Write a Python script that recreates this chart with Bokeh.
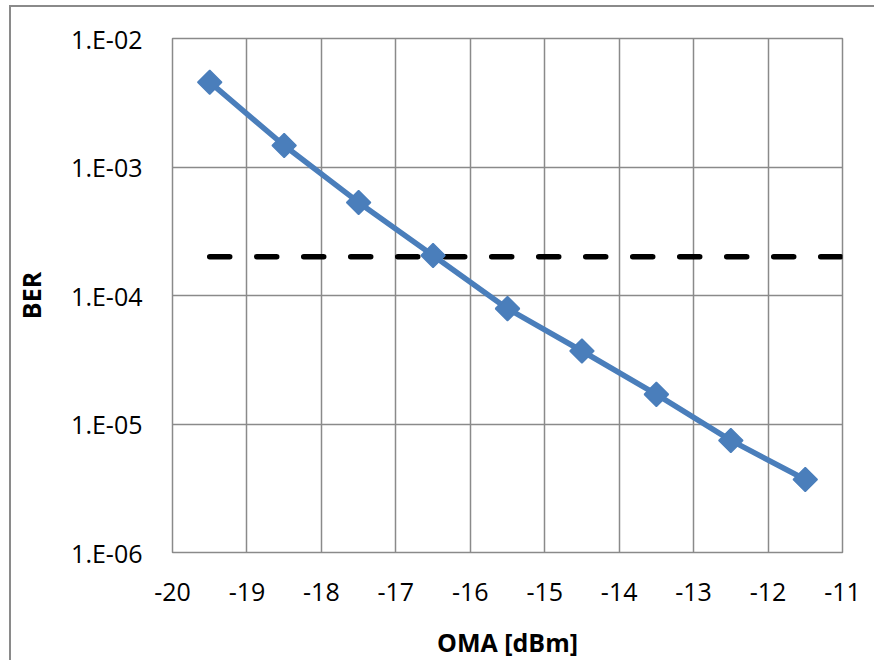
import math
from bokeh.plotting import figure
from bokeh.models import FixedTicker
from bokeh.embed import file_html
from bokeh.resources import INLINE

# ---- data ----
oma = [-19.5, -18.5, -17.5, -16.5, -15.5, -14.5, -13.5, -12.5, -11.5]
ber = [4.57e-3, 1.47e-3, 5.3e-4, 2.05e-4, 7.9e-5, 3.7e-5, 1.7e-5, 7.45e-6, 3.7e-6]
limit_x = [-19.5, -11.0]
limit_y = [2e-4, 2e-4]

x_ticks = [-20, -19, -18, -17, -16, -15, -14, -13, -12, -11]
x_tick_labels = ["-20", "-19", "-18", "-17", "-16", "-15", "-14", "-13", "-12", "-11"]
y_ticks = [1e-6, 1e-5, 1e-4, 1e-3, 1e-2]
y_tick_labels = ["1.E-06", "1.E-05", "1.E-04", "1.E-03", "1.E-02"]

FONT = "Open Sans"
GRID = "#8a8a8a"
BLUE = "#4a7ebb"

p = figure(
    frame_width=670, frame_height=514,
    min_border_left=172, min_border_right=32,
    min_border_top=38, min_border_bottom=108,
    x_range=(-20, -11), y_range=(1e-6, 1e-2),
    y_axis_type="log",
    output_backend="svg", toolbar_location=None,
)
# chart-area border: only its left and top edges fall inside the picture
p.styles = {
    "background": (
        "linear-gradient(#8a8a8a, #8a8a8a) 9px 5px / 2px calc(100% - 5px) no-repeat, "
        "linear-gradient(#8a8a8a, #8a8a8a) 9px 5px / calc(100% - 9px) 2px no-repeat, "
        "#ffffff"
    ),
}
p.background_fill_color = "white"
p.border_fill_alpha = 0
p.outline_line_color = GRID
p.outline_line_width = 1.5

# axes
p.xaxis.ticker = FixedTicker(ticks=x_ticks)
p.xaxis.major_label_overrides = dict(zip(x_ticks, x_tick_labels))
p.yaxis.ticker = FixedTicker(ticks=y_ticks, minor_ticks=[])
p.yaxis.major_label_overrides = dict(zip(y_ticks, y_tick_labels))
for ax in (p.xaxis[0], p.yaxis[0]):
    ax.axis_line_color = None
    ax.major_tick_line_color = None
    ax.minor_tick_line_color = None
    ax.major_tick_in = 0
    ax.major_tick_out = 0
    ax.minor_tick_in = 0
    ax.minor_tick_out = 0
    ax.major_label_text_font = FONT
    ax.major_label_text_font_size = "25px"
    ax.major_label_text_color = "black"
    ax.axis_label_text_font = FONT
    ax.axis_label_text_font_size = "25px"
    ax.axis_label_text_font_style = "bold"
    ax.axis_label_text_color = "black"

p.xaxis.axis_label = "OMA [dBm]"
p.yaxis.axis_label = "BER"
p.xaxis.major_label_standoff = 30
p.yaxis.major_label_standoff = 30
p.xaxis.axis_label_standoff = 21
p.yaxis.axis_label_standoff = 20

# grid
p.xgrid.ticker = FixedTicker(ticks=x_ticks)
p.ygrid.ticker = FixedTicker(ticks=y_ticks, minor_ticks=[])
for g in (p.xgrid[0], p.ygrid[0]):
    g.grid_line_color = GRID
    g.grid_line_width = 1.5
    g.minor_grid_line_color = None

# threshold dashed line
p.line(limit_x, limit_y, line_color="black", line_width=5.5,
       line_dash="20 27", line_cap="round")

# data series
p.line(oma, ber, line_color=BLUE, line_width=5.5, line_join="round")
p.scatter(oma, ber, marker="square", angle=math.pi / 4, size=17,
          fill_color=BLUE, line_color=BLUE, line_width=1.5)

open("out.html", "w").write(file_html(p, INLINE))
